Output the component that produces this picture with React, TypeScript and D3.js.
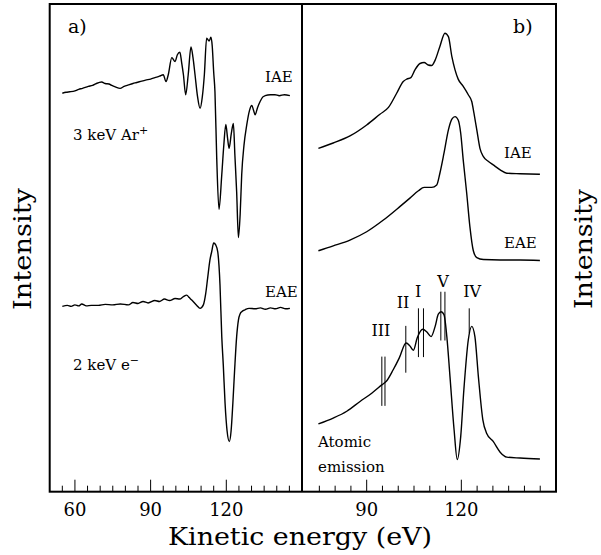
import React from "react";
import * as d3 from "d3";

// [kinetic energy (eV), intensity (a.u., curves stacked)]
// panel a) derivative spectra
const iaeDerivative: [number, number][] = [
  [55.0, 81.7], [56.5, 81.9], [58, 82.0], [60, 82.2], [61.5, 82.5], [63, 82.7], [65.3, 83.1],
  [67, 83.3], [68.5, 83.7], [70.6, 84.0], [72, 83.7], [73.5, 83.6], [74.6, 83.3], [76, 83.0],
  [77.9, 82.7], [79.5, 83.1], [81.2, 83.4], [83, 83.7], [84.5, 83.9], [86.5, 84.2], [88, 84.4],
  [90, 84.6], [91.7, 84.9], [93.5, 85.2], [95.0, 85.5], [96.1, 84.1], [97.0, 85.5], [98.4, 89.0],
  [99.7, 88.2], [100.6, 89.6], [101.6, 90.1], [102.3, 88], [103.0, 85.5], [103.9, 81.4],
  [104.9, 85.5], [106.0, 91.2], [106.8, 89], [107.6, 85.5], [108.6, 81], [109.6, 78.6],
  [110.5, 81], [111.3, 85.5], [112.2, 93.0], [113.2, 92.4], [113.9, 93.2], [114.4, 91.5],
  [115.0, 86], [115.5, 82.0], [116.2, 68.4], [117.1, 57.9], [118.2, 65.0], [119.0, 71],
  [119.8, 75.3], [120.5, 72.5], [121.1, 70.4], [122.0, 73.5], [122.8, 75.5], [123.4, 69],
  [124.1, 61.5], [124.8, 52.1], [125.5, 57], [126.1, 65.0], [127.0, 71], [128.1, 75.2],
  [129.2, 78.2], [130.1, 79.2], [130.8, 78.2], [131.4, 77.3], [132.4, 78.8], [133.4, 80.0],
  [134.4, 80.9], [135.4, 81.2], [137.5, 81.4], [139.3, 81.4], [141, 81.2], [143, 81.4], [145.2, 81.2],
];

const eaeDerivative: [number, number][] = [
  [55.0, 38.0], [57, 38.2], [58.5, 38.0], [60, 38.3], [61.5, 38.1], [62.7, 38.5], [64.5, 38.1],
  [66.5, 38.2], [69.3, 38.2], [72, 38.4], [75, 38.3], [78, 38.5], [81.2, 38.3], [83, 38.8],
  [85, 38.6], [87, 39.0], [89, 38.7], [91.7, 39.2], [93.5, 39.0], [95.5, 39.5], [97.5, 39.2],
  [99.7, 39.6], [101.5, 39.5], [103, 40.0], [104.3, 40.3], [105.3, 39.8], [106.3, 39.3],
  [108.3, 38.2], [109.6, 37.6], [110.9, 38.3], [111.8, 40.5], [112.6, 43.8], [113.5, 47.5],
  [114.2, 49.2], [115.0, 51.0], [115.8, 50.6], [116.6, 49.2], [117.5, 42.4], [118.2, 31.8],
  [118.8, 26], [119.5, 18.2], [120.3, 12.5], [121.2, 10.3], [121.9, 12.5], [122.6, 18.2],
  [123.3, 25], [124.1, 31.8], [124.8, 35.2], [125.5, 36.5], [126.1, 36.9], [127.4, 37.3],
  [129, 37.6], [131.4, 37.5], [133.5, 37.7], [135.5, 37.4], [137.5, 37.7], [139.5, 37.5],
  [141.5, 37.8], [143.5, 37.5], [145.2, 37.6],
];

// panel b) spectra
const iaeSpectrum: [number, number][] = [
  [74.7, 70.4], [79.4, 71.5], [84.7, 72.95], [90.0, 75.2], [94.2, 77.4], [96.9, 78.8],
  [99.5, 81.7], [101.6, 84.1], [102.7, 84.6], [104.0, 84.9], [105.3, 86.5], [106.9, 87.8],
  [108.2, 88.0], [109.5, 87.5], [110.6, 87.4], [111.7, 88.5], [113.2, 91.3], [114.8, 94.0],
  [115.9, 93.3], [117.0, 89.2], [118.0, 86.5], [119.0, 84.6], [120.6, 83.1], [122.2, 81.4],
  [123.3, 80.0], [124.0, 77.6], [124.9, 74.2], [125.9, 70.4], [127.0, 68.7], [128.6, 67.7],
  [130.1, 67.0], [132.3, 66.0], [134.4, 65.3], [138.6, 65.2], [144.9, 65.1],
];

const eaeSpectrum: [number, number][] = [
  [74.7, 49.4], [79.4, 50.4], [84.7, 51.6], [90.0, 53.3], [95.3, 55.7], [100.6, 58.5],
  [103.7, 60.2], [106.4, 61.7], [108.2, 62.4], [110.6, 62.4], [112.2, 62.9], [113.2, 65.3],
  [114.5, 69.4], [115.9, 74.2], [117.0, 76.4], [118.0, 76.9], [119.0, 76.2], [119.8, 73.5],
  [120.6, 68.0], [121.7, 61.2], [122.7, 54.4], [123.8, 49.4], [124.9, 48.0], [127.0, 47.6],
  [132.3, 47.5], [138.6, 47.5], [144.9, 47.4],
];

const atomicSpectrum: [number, number][] = [
  [74.7, 13.9], [79.4, 15.1], [83.7, 16.5], [87.9, 18.5], [91.6, 20.2], [94.8, 21.9],
  [96.3, 22.7], [98.4, 25.0], [100.3, 27.4], [102.5, 30.5], [103.7, 29.9], [104.8, 29.0],
  [106.0, 31.5], [107.8, 33.3], [109.0, 32.8], [110.4, 31.8], [111.7, 33.9], [112.7, 36.4],
  [113.6, 36.9], [114.5, 36.3], [115.4, 31.8], [116.4, 23.6], [117.7, 12.7], [118.7, 6.6],
  [119.8, 11.3], [120.8, 20.9], [122.2, 31.1], [123.3, 33.9], [124.3, 31.8], [125.4, 23.6],
  [126.8, 14.8], [128.0, 12.0], [130.1, 10.3], [132.3, 8.1], [134.4, 7.1], [138.6, 6.9], [144.9, 6.7],
];

// atomic transition markers
const atomicLineNames = ["III", "II", "I", "V", "IV"];
const atomicLineEnergies = [[94.8, 95.8], [102.4], [106.4, 108.0], [113.5, 114.8], [122.5]];
const atomicLineSpan: [number, number][] = [[17.6, 27.7], [24.4, 34.0], [27.6, 37.6], [31.0, 41.0], [32.5, 37.6]];
const atomicLabelAt: [number, number][] = [[94.5, 31.9], [101.5, 37.7], [106.3, 39.9], [114.2, 42.0], [123.4, 39.9]];

const leftMajor = [60, 90, 120];
const rightMajor = [90, 120];

const W = 601;
const H = 555;
const top = 4;
const bottom = 491.7;
const left = 49.7;
const mid = 302;
const right = 556;
const font = "DejaVu Serif";

export default function App() {
  const xA = d3.scaleLinear().domain([50, 150]).range([left, mid]);
  const xB = d3.scaleLinear().domain([69.5, 150]).range([mid, right]);
  const y = d3.scaleLinear().domain([0, 100]).range([bottom, top]);

  const lineA = d3.line<[number, number]>().x((d) => xA(d[0])).y((d) => y(d[1])).curve(d3.curveMonotoneX);
  const lineB = d3.line<[number, number]>().x((d) => xB(d[0])).y((d) => y(d[1])).curve(d3.curveMonotoneX);

  const minorA = d3.range(55, 150, 5).filter((v) => !leftMajor.includes(v));
  const minorB = d3.range(75, 150, 5).filter((v) => !rightMajor.includes(v));

  const curve = { fill: "none", stroke: "#000", strokeWidth: 1.4, strokeLinejoin: "round" as const };
  const label = { fontFamily: font, fontSize: 15, fill: "#000" };

  return (
    <svg width={W} height={H} style={{ position: "absolute", left: 0, top: 0, background: "#fff" }}>
      {/* frame */}
      <rect x={left} y={top} width={right - left} height={bottom - top} fill="none" stroke="#000" strokeWidth={2} />
      <line x1={mid} x2={mid} y1={top} y2={bottom} stroke="#000" strokeWidth={2} />

      {/* ticks */}
      {minorA.map((v) => (
        <line key={"ma" + v} x1={xA(v)} x2={xA(v)} y1={bottom} y2={bottom - 6} stroke="#000" strokeWidth={1} />
      ))}
      {leftMajor.map((v) => (
        <g key={"MA" + v}>
          <line x1={xA(v)} x2={xA(v)} y1={bottom} y2={bottom - 12} stroke="#000" strokeWidth={1} />
          <text x={xA(v)} y={516} textAnchor="middle" fontFamily={font} fontSize={18}>{v}</text>
        </g>
      ))}
      {minorB.map((v) => (
        <line key={"mb" + v} x1={xB(v)} x2={xB(v)} y1={bottom} y2={bottom - 6} stroke="#000" strokeWidth={1} />
      ))}
      {rightMajor.map((v) => (
        <g key={"MB" + v}>
          <line x1={xB(v)} x2={xB(v)} y1={bottom} y2={bottom - 12} stroke="#000" strokeWidth={1} />
          <text x={xB(v)} y={516} textAnchor="middle" fontFamily={font} fontSize={18}>{v}</text>
        </g>
      ))}

      {/* axis titles */}
      <text x={300} y={545} textAnchor="middle" fontFamily={font} fontSize={25} textLength={264} lengthAdjust="spacingAndGlyphs">
        Kinetic energy (eV)
      </text>
      <text transform="translate(31,249) rotate(-90)" textAnchor="middle" fontFamily={font} fontSize={25} textLength={122} lengthAdjust="spacingAndGlyphs">
        Intensity
      </text>
      <text transform="translate(592,249) rotate(-90)" textAnchor="middle" fontFamily={font} fontSize={24} textLength={120} lengthAdjust="spacingAndGlyphs">
        Intensity
      </text>

      {/* panel a */}
      <text x={68} y={33} {...label} fontSize={19}>a)</text>
      <path d={lineA(iaeDerivative) ?? ""} {...curve} />
      <path d={lineA(eaeDerivative) ?? ""} {...curve} />
      <text x={265} y={82} {...label}>IAE</text>
      <text x={265} y={297} {...label}>EAE</text>
      <text x={73} y={140} {...label}>
        3 keV Ar<tspan dy={-6} fontSize={11}>+</tspan>
      </text>
      <text x={73} y={370} {...label}>
        2 keV e<tspan dy={-6} fontSize={11}>−</tspan>
      </text>

      {/* panel b */}
      <text x={513} y={33} {...label} fontSize={19}>b)</text>
      <path d={lineB(iaeSpectrum) ?? ""} {...curve} />
      <path d={lineB(eaeSpectrum) ?? ""} {...curve} />
      <path d={lineB(atomicSpectrum) ?? ""} {...curve} />
      <text x={504} y={158} {...label}>IAE</text>
      <text x={504} y={248} {...label}>EAE</text>
      <text x={318} y={447} {...label}>Atomic</text>
      <text x={318} y={472} {...label}>emission</text>

      {atomicLineNames.map((name, i) => (
        <g key={name}>
          {atomicLineEnergies[i].map((e) => (
            <line key={e} x1={xB(e)} x2={xB(e)} y1={y(atomicLineSpan[i][0])} y2={y(atomicLineSpan[i][1])} stroke="#000" strokeWidth={1} />
          ))}
          <text x={xB(atomicLabelAt[i][0])} y={y(atomicLabelAt[i][1])} textAnchor="middle" {...label} fontSize={16}>
            {name}
          </text>
        </g>
      ))}
    </svg>
  );
}
